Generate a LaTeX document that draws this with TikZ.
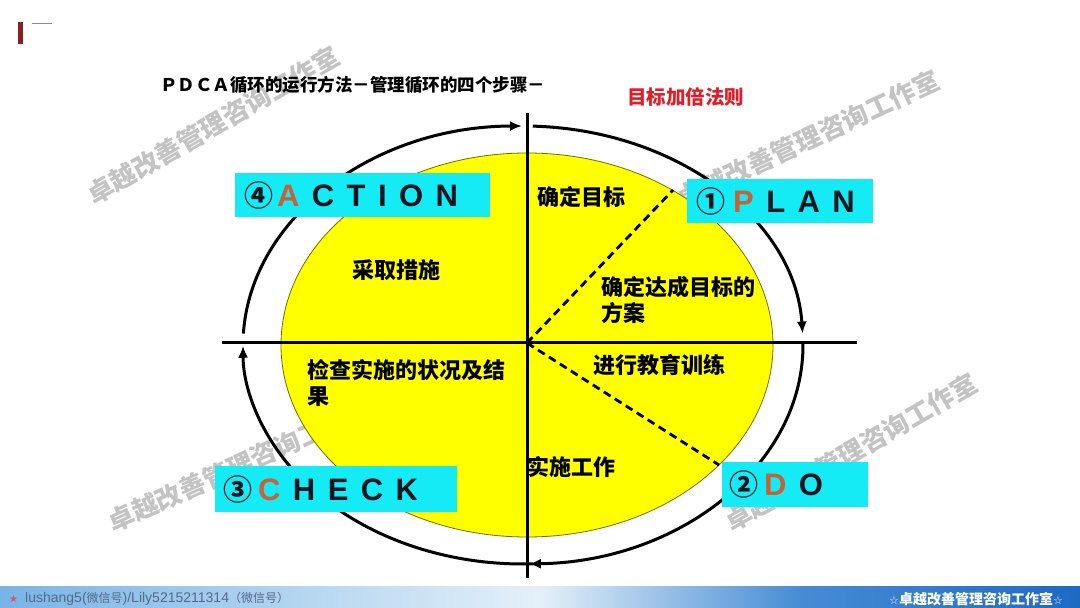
\documentclass[tikz,border=0pt]{standalone}
\usepackage{fontspec}
\setmainfont{Liberation Sans}
\newfontfamily\cjk{Noto Sans CJK SC}
\newfontfamily\djv{DejaVu Sans}
\usetikzlibrary{arrows.meta,shadings}
\definecolor{boxcyan}{RGB}{20,235,245}
\definecolor{ylw}{RGB}{255,255,0}
\definecolor{ylwedge}{RGB}{110,110,0}
\definecolor{accent}{RGB}{205,95,55}
\definecolor{lettercol}{RGB}{20,20,30}
\definecolor{rtxt}{RGB}{225,30,40}
\definecolor{wmgray}{RGB}{195,195,195}
\definecolor{barL}{RGB}{120,180,230}
\definecolor{barM}{RGB}{228,240,249}
\definecolor{barRa}{RGB}{70,140,212}
\definecolor{barRb}{RGB}{30,105,195}
\definecolor{footgray}{RGB}{85,105,135}
\definecolor{starpink}{RGB}{220,80,110}
\definecolor{darkred}{RGB}{140,30,35}
\newcommand\lsp{\hspace{0.4em}}
\newcommand\circd[1]{{\cjk\bfseries\fontsize{29}{29}\selectfont #1}}
\begin{document}
\begin{tikzpicture}[x=1pt,y=1pt,
  mainline/.style={line width=3pt, black},
  cycarrow/.style={line width=3pt, black, -{Latex[length=12pt,width=10pt]}},
  dashline/.style={line width=2.8pt, black, dash pattern=on 8pt off 5pt},
  cyanbox/.style={fill=boxcyan, draw=none, inner xsep=9pt, inner ysep=0pt, anchor=west, align=left, text=lettercol, font=\bfseries\fontsize{31}{31}\selectfont},
  bodytxt/.style={font=\cjk\bfseries\fontsize{22}{26}\selectfont, anchor=west, align=left, inner sep=0pt},
  wm/.style={font=\cjk\bfseries\fontsize{26}{26}\selectfont, text=wmgray, inner sep=0pt},
]
\useasboundingbox (0,0) rectangle (1080,608);
\fill[white] (0,0) rectangle (1080,608);

% watermarks (behind everything)
\node[wm, rotate=30] (wm1) at (213,483) {卓越改善管理咨询工作室};
\node[wm, rotate=25] (wm2) at (808,469) {卓越改善管理咨询工作室};
\node[wm, rotate=24] (wm3) at (240,143) {卓越改善管理咨询工作室};
\node[wm, rotate=30] (wm4) at (851,156) {卓越改善管理咨询工作室};

% footer bar
\shade[left color=barL, right color=barM] (0,0) rectangle (540,21);
\shade[left color=barM, right color=barRa] (540,0) rectangle (800,21);
\shade[left color=barRa, right color=barRb] (800,0) rectangle (1080,21);

% top-left mark
\fill[darkred] (18,564) rectangle (23,586);
\draw[black!45, line width=0.8pt] (32,585) -- (52,585);

% yellow ellipse
\draw[fill=ylw, draw=ylwedge, line width=0.8pt] (527,263) ellipse[x radius=246, y radius=192];

% axes
\coordinate (ctr) at (527,265);
\coordinate (vtop) at (527,495);
\coordinate (vbot) at (527,30);
\coordinate (hleft) at (222,265);
\coordinate (hright) at (857,265);
\draw[mainline] (vtop) -- (vbot);
\draw[mainline] (hleft) -- (hright);

% cycle arcs
\coordinate (arcA) at ([shift={(523,263)}]177:280 and 219);
\coordinate (arcB) at ([shift={(523,263)}]88:280 and 219);
\coordinate (arcC) at ([shift={(523,263)}]0.5:280 and 219);
\coordinate (arcD) at ([shift={(523,263)}]-88:280 and 219);
\draw[cycarrow] (arcA) arc[start angle=177, end angle=90.2, x radius=280, y radius=219];
\draw[cycarrow] (arcB) arc[start angle=88, end angle=3, x radius=280, y radius=219];
\draw[cycarrow] (arcC) arc[start angle=0.5, end angle=-88.8, x radius=280, y radius=219];
\draw[cycarrow] (arcD) arc[start angle=-88, end angle=-179.8, x radius=280, y radius=219];

% dashed lines
\coordinate (dashP) at (673,418);
\coordinate (dashD) at (719,143);
\draw[dashline] (ctr) -- (dashP);
\draw[dashline] (ctr) -- (dashD);

% titles
\node[anchor=west, font=\cjk\bfseries\fontsize{17.5}{17.5}\selectfont, inner sep=0pt] (title) at (160,523) {ＰＤＣＡ循环的运行方法－管理循环的四个步骤－};
\node[anchor=west, font=\cjk\bfseries\fontsize{19.5}{19.5}\selectfont, text=rtxt, inner sep=0pt] (rule) at (627,511) {目标加倍法则};

% boxes
\node[cyanbox, minimum height=44pt, text width=237pt] (action) at (235,413) {\circd{④}\hspace{4pt}{\color{accent}A}\lsp C\lsp T\lsp I\lsp O\lsp N};
\node[cyanbox, minimum height=44pt, text width=168pt] (plan) at (687,407) {\circd{①}\hspace{8pt}{\color{accent}P}\lsp L\lsp A\lsp N};
\node[cyanbox, minimum height=46pt, text width=226pt, inner xsep=8pt] (check) at (215,119) {\circd{③}\hspace{6pt}{\color{accent}C}\lsp H\lsp E\lsp C\lsp K};
\node[cyanbox, minimum height=45pt, text width=132pt, inner xsep=7pt] (do) at (722,123.5) {\circd{②}\hspace{6pt}{\color{accent}D}\lsp O};

% body texts
\node[bodytxt] (t1) at (537,411) {确定目标};
\node[bodytxt] (t2) at (352,338) {采取措施};
\node[bodytxt] (t3) at (601,308) {确定达成目标的\\方案};
\node[bodytxt] (t4) at (593,243) {进行教育训练};
\node[bodytxt] (t5) at (307,225) {检查实施的状况及结\\果};
\node[bodytxt] (t6) at (527,141) {实施工作};

% footer texts
\node[anchor=west, inner sep=0pt, text=starpink, font=\djv\fontsize{10}{10}\selectfont] (star) at (9,9) {★};
\node[anchor=west, inner sep=0pt, text=footgray, font=\fontsize{14}{14}\selectfont] (wx) at (25,9) {lushang5({\cjk\fontsize{12}{12}\selectfont 微信号})/Lily5215211314{\cjk\fontsize{12}{12}\selectfont （微信号）}};
\node[inner sep=0pt, text=white, font=\cjk\bfseries\fontsize{14}{14}\selectfont] (brand) at (976,9) {{\djv\fontsize{11}{11}\selectfont ☆}卓越改善管理咨询工作室{\djv\fontsize{11}{11}\selectfont ☆}};
\end{tikzpicture}
\end{document}
